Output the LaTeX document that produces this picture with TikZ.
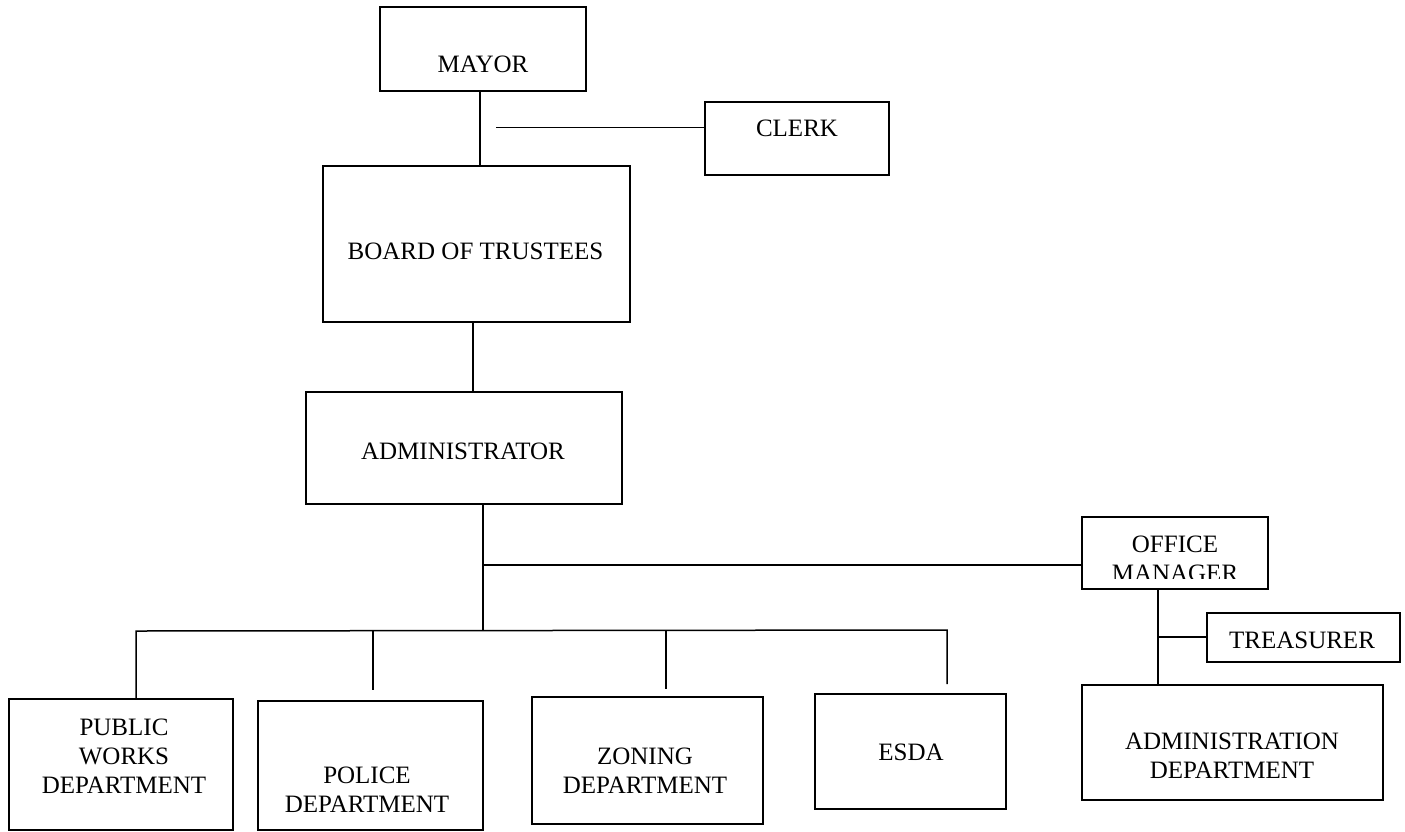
\documentclass[tikz,border=0pt]{standalone}
\usepackage{fontspec}
\setmainfont{Liberation Serif}
\begin{document}
\begin{tikzpicture}[x=1pt,y=-1pt,
  box/.style={draw, line width=1.5pt, inner sep=0pt, outer sep=0pt},
  lbl/.style={font=\fontsize{25}{29}\selectfont, align=center, inner sep=0pt},
  conn/.style={line width=1.5pt}]
\useasboundingbox (0,0) rectangle (1405,831);
% boxes
\node[box, minimum width=206pt, minimum height=84pt]  (mayor)  at (483,49)     {};
\node[box, minimum width=184pt, minimum height=73pt]  (clerk)  at (797,138.5)  {};
\node[box, minimum width=307pt, minimum height=156pt] (board)  at (476.5,244)  {};
\node[box, minimum width=316pt, minimum height=112pt] (admin)  at (464,448)    {};
\node[box, minimum width=186pt, minimum height=72pt]  (om)     at (1175,553)   {};
\node[box, minimum width=193pt, minimum height=49pt]  (treas)  at (1303.5,637.5) {};
\node[box, minimum width=301pt, minimum height=115pt] (adept)  at (1232.5,742.5) {};
\node[box, minimum width=224pt, minimum height=131pt] (pw)     at (121,764.5)  {};
\node[box, minimum width=225pt, minimum height=129pt] (police) at (370.5,765.5) {};
\node[box, minimum width=231pt, minimum height=127pt] (zoning) at (647.5,760.5) {};
\node[box, minimum width=191pt, minimum height=115pt] (esda)   at (910.5,751.5) {};
% labels
\node[lbl] (mayor-t)  at (483,64)    {MAYOR};
\node[lbl] (clerk-t)  at (797,128.5) {CLERK};
\node[lbl] (board-t)  at (475.5,251.5) {BOARD OF TRUSTEES};
\node[lbl] (admin-t)  at (463,451)   {ADMINISTRATOR};
\begin{scope}
  \clip (1070,500) rectangle (1280,578);
  \node[lbl] (om-t) at (1175,559) {OFFICE\\MANAGER};
\end{scope}
\node[lbl] (treas-t)  at (1302,640)  {TREASURER};
\node[lbl] (adept-t)  at (1232,756)  {ADMINISTRATION\\DEPARTMENT};
\node[lbl] (pw-t)     at (124,756)   {PUBLIC\\WORKS\\DEPARTMENT};
\node[lbl] (police-t) at (367,790)   {POLICE\\DEPARTMENT};
\node[lbl] (zoning-t) at (645,771)   {ZONING\\DEPARTMENT};
\node[lbl] (esda-t)   at (911,752)   {ESDA};
% connector junctions
\coordinate (cj)   at (496,127.5);
\coordinate (busc) at (483,630);
\coordinate (omj)  at (483,565);
\coordinate (busL) at (136,631);
\coordinate (busR) at (947,630);
\coordinate (d2)   at (373,690);
\coordinate (d3)   at (666,689);
\coordinate (d4)   at (947,684);
\coordinate (tj)   at (1158,637);
% connectors
\draw[conn] ([xshift=-3pt]mayor.south) -- ([xshift=-3pt]mayor.south |- board.north);
\draw[conn] (cj) -- (cj -| clerk.west);
\draw[conn] ([xshift=-3.5pt]board.south) -- ([xshift=-3.5pt]board.south |- admin.north);
\draw[conn] (admin.south -| busc) -- (busc);
\draw[conn] (omj) -- (omj -| om.west);
\draw[conn] (pw.north -| busL) -- (busL) -- (busR) -- (d4);
\draw[conn] (d2 |- busL) -- (d2);
\draw[conn] (d3 |- busL) -- (d3);
\draw[conn] ([xshift=-17pt]om.south) -- ([xshift=-17pt]om.south |- adept.north);
\draw[conn] (tj) -- (tj -| treas.west);
\end{tikzpicture}
\end{document}
